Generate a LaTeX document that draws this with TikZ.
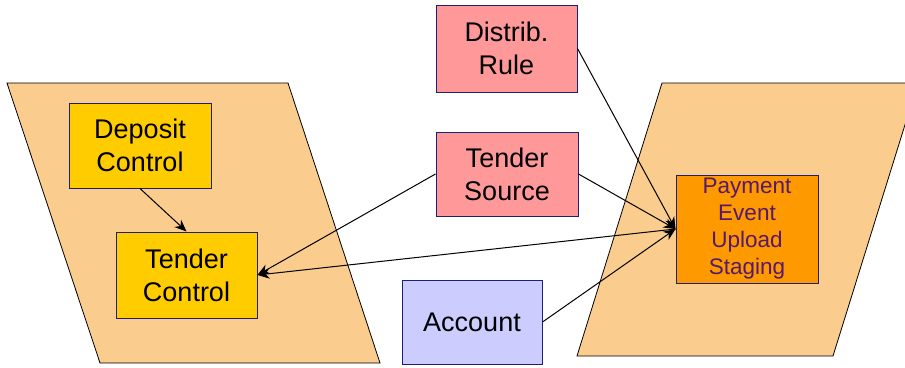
\documentclass[tikz,border=0pt]{standalone}
\usepackage{fontspec}
\setmainfont{Liberation Sans}
\usetikzlibrary{arrows.meta}
\definecolor{paraFill}{RGB}{250,204,142}
\definecolor{goldBox}{RGB}{255,204,0}
\definecolor{pinkBox}{RGB}{255,153,153}
\definecolor{lilacBox}{RGB}{204,204,255}
\definecolor{orangeBox}{RGB}{255,153,0}
\definecolor{boxLine}{RGB}{30,30,120}
\definecolor{peText}{RGB}{85,25,110}
\tikzset{
  para/.style={fill=paraFill, draw=black, line width=0.8pt},
  entity/.style={draw=boxLine, line width=1pt, rectangle, inner sep=0pt, align=center,
     font=\fontsize{27}{33}\selectfont},
  link/.style={draw=black, line width=1pt},
  tip/.style={-{Stealth[length=12pt,width=10pt]}}
}
\begin{document}
\begin{tikzpicture}[x=1pt,y=-1pt]
\useasboundingbox (0,0) rectangle (905,367);
\clip (0,0) rectangle (905,367);
% areas
\path[para] (7,83) -- (288,83) -- (380,363) -- (100,363) -- cycle;
\path[para] (662,83) -- (918,83) -- (833,356) -- (577,356) -- cycle;
% entities
\node[entity, fill=goldBox, minimum width=142pt, minimum height=85pt] (dc) at (140,145.5) {Deposit\\Control};
\node[entity, fill=goldBox, minimum width=141pt, minimum height=86pt] (tc) at (186.5,275) {Tender\\Control};
\node[entity, fill=pinkBox, minimum width=141pt, minimum height=87pt] (dr) at (506.5,48.5) {Distrib.\\Rule};
\node[entity, fill=pinkBox, minimum width=142pt, minimum height=84pt] (ts) at (507,174) {Tender\\Source};
\node[entity, fill=lilacBox, minimum width=140pt, minimum height=84pt] (ac) at (472,322) {Account};
\node[entity, fill=orangeBox, minimum width=142pt, minimum height=108pt, text=peText,
      font=\fontsize{22.5}{27}\selectfont] (pe) at (747,229) {Payment\\Event\\Upload\\Staging};
% connectors
\draw[link, tip] (dc.south) -- (tc.north);
\draw[link, tip] (ts.west) -- (tc.east);
\draw[link, tip] (pe.west) -- (tc.east);
\draw[link, tip] (dr.east) -- (pe.west);
\draw[link, tip] (ts.east) -- (pe.west);
\draw[link, tip] (ac.east) -- (pe.west);
\end{tikzpicture}
\end{document}
